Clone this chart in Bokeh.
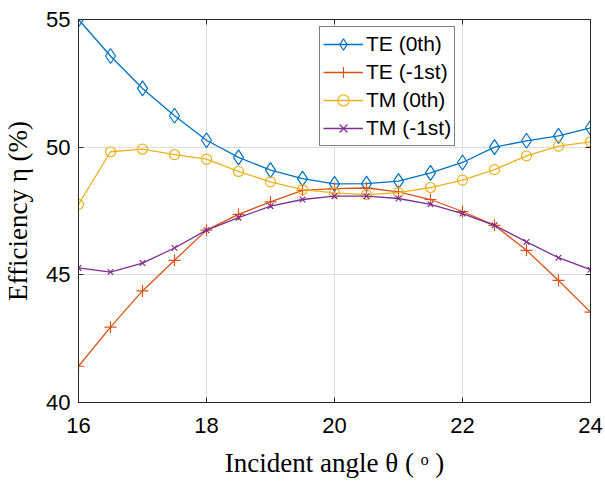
from bokeh.plotting import figure
from bokeh.models import Range1d, LinearAxis, Legend, LegendItem, FixedTicker
from bokeh.embed import file_html
from bokeh.resources import INLINE

angles = [16, 16.5, 17, 17.5, 18, 18.5, 19, 19.5, 20, 20.5, 21, 21.5, 22, 22.5, 23, 23.5, 24]
te_0th = [55.0, 53.57, 52.3, 51.23, 50.27, 49.6, 49.1, 48.77, 48.56, 48.57, 48.67, 48.99, 49.4, 50.0, 50.25, 50.44, 50.76]
te_m1st = [41.42, 42.95, 44.37, 45.57, 46.75, 47.37, 47.86, 48.31, 48.38, 48.4, 48.25, 47.95, 47.48, 46.94, 45.96, 44.78, 43.54]
tm_0th = [47.76, 49.82, 49.92, 49.71, 49.53, 49.05, 48.64, 48.34, 48.21, 48.14, 48.22, 48.42, 48.71, 49.12, 49.66, 50.04, 50.21]
tm_m1st = [45.27, 45.11, 45.46, 46.05, 46.75, 47.24, 47.69, 47.95, 48.08, 48.08, 47.99, 47.76, 47.4, 46.94, 46.29, 45.67, 45.2]

x_ticks = [16, 18, 20, 22, 24]
y_ticks = [40, 45, 50, 55]
series_names = ["TE (0th)", "TE (-1st)", "TM (0th)", "TM (-1st)"]
colors = ["#0072BD", "#D95319", "#EDB120", "#7E2F8E"]

AX = "#262626"
TICK_FONT = "Liberation Sans"
LABEL_FONT = "Liberation Serif"

p = figure(width=605, height=485, output_backend="svg", toolbar_location=None,
           x_range=Range1d(16, 24), y_range=Range1d(40, 55),
           min_border_left=75, min_border_right=15, min_border_top=19, min_border_bottom=83)
p.background_fill_color = "white"
p.border_fill_color = "white"
p.outline_line_color = AX
p.outline_line_width = 1

for ax in (p.xaxis[0], p.yaxis[0]):
    ax.major_tick_in = 5
    ax.major_tick_out = 0
    ax.minor_tick_in = 0
    ax.minor_tick_out = 0
    ax.axis_line_color = AX
    ax.major_tick_line_color = AX
    ax.major_label_text_font = TICK_FONT
    ax.major_label_text_font_size = "22px"
    ax.major_label_text_color = "black"
    ax.axis_label_text_font = LABEL_FONT
    ax.axis_label_text_font_size = "27px"
    ax.axis_label_text_font_style = "normal"
    ax.axis_label_text_color = "black"

p.xaxis[0].ticker = FixedTicker(ticks=x_ticks)
p.yaxis[0].ticker = FixedTicker(ticks=y_ticks)
p.xaxis[0].major_label_standoff = 15
p.yaxis[0].major_label_standoff = 8
p.xaxis[0].axis_label = "Incident angle θ ( ᵒ )"
p.yaxis[0].axis_label = "Efficiency η (%)"
p.xaxis[0].axis_label_standoff = 12
p.yaxis[0].axis_label_standoff = 10

# mirrored ticks on top and right (box), no labels
top = LinearAxis(ticker=FixedTicker(ticks=x_ticks), major_tick_in=5, major_tick_out=0,
                 minor_tick_in=0, minor_tick_out=0,
                 major_label_overrides={t: "" for t in x_ticks},
                 axis_line_color=AX, major_tick_line_color=AX, major_label_standoff=0)
right = LinearAxis(ticker=FixedTicker(ticks=y_ticks), major_tick_in=5, major_tick_out=0,
                   minor_tick_in=0, minor_tick_out=0,
                   major_label_overrides={t: "" for t in y_ticks},
                   axis_line_color=AX, major_tick_line_color=AX, major_label_standoff=0)
p.add_layout(top, "above")
p.add_layout(right, "right")

p.xgrid.ticker = FixedTicker(ticks=x_ticks)
p.ygrid.ticker = FixedTicker(ticks=y_ticks)
p.grid.grid_line_color = "#dcdcdc"
p.grid.grid_line_width = 1

lw = 1.3
items = []
r_line = p.line(angles, te_0th, line_color=colors[0], line_width=lw)
r_mark = p.scatter(angles, te_0th, marker="diamond", size=15, fill_color=None, line_color=colors[0], line_width=1.2)
items.append(LegendItem(label=series_names[0], renderers=[r_line, r_mark]))

r_line = p.line(angles, te_m1st, line_color=colors[1], line_width=lw)
r_mark = p.scatter(angles, te_m1st, marker="cross", size=12, line_color=colors[1], line_width=1.2)
items.append(LegendItem(label=series_names[1], renderers=[r_line, r_mark]))

r_line = p.line(angles, tm_0th, line_color=colors[2], line_width=lw)
r_mark = p.scatter(angles, tm_0th, marker="circle", size=10, fill_color=None, line_color=colors[2], line_width=1.2)
items.append(LegendItem(label=series_names[2], renderers=[r_line, r_mark]))

r_line = p.line(angles, tm_m1st, line_color=colors[3], line_width=lw)
r_mark = p.scatter(angles, tm_m1st, marker="x", size=8, line_color=colors[3], line_width=1.2)
items.append(LegendItem(label=series_names[3], renderers=[r_line, r_mark]))

legend = Legend(items=items, location=(241, 256))
legend.border_line_color = "black"
legend.border_line_width = 1
legend.background_fill_color = "white"
legend.background_fill_alpha = 1
legend.label_text_font = TICK_FONT
legend.label_text_font_size = "21px"
legend.label_text_color = "black"
legend.glyph_width = 40
legend.glyph_height = 28
legend.label_height = 28
legend.label_standoff = 3
legend.padding = 3
legend.spacing = 0
legend.margin = 0
p.add_layout(legend)

open("out.html", "w").write(file_html(p, INLINE))
